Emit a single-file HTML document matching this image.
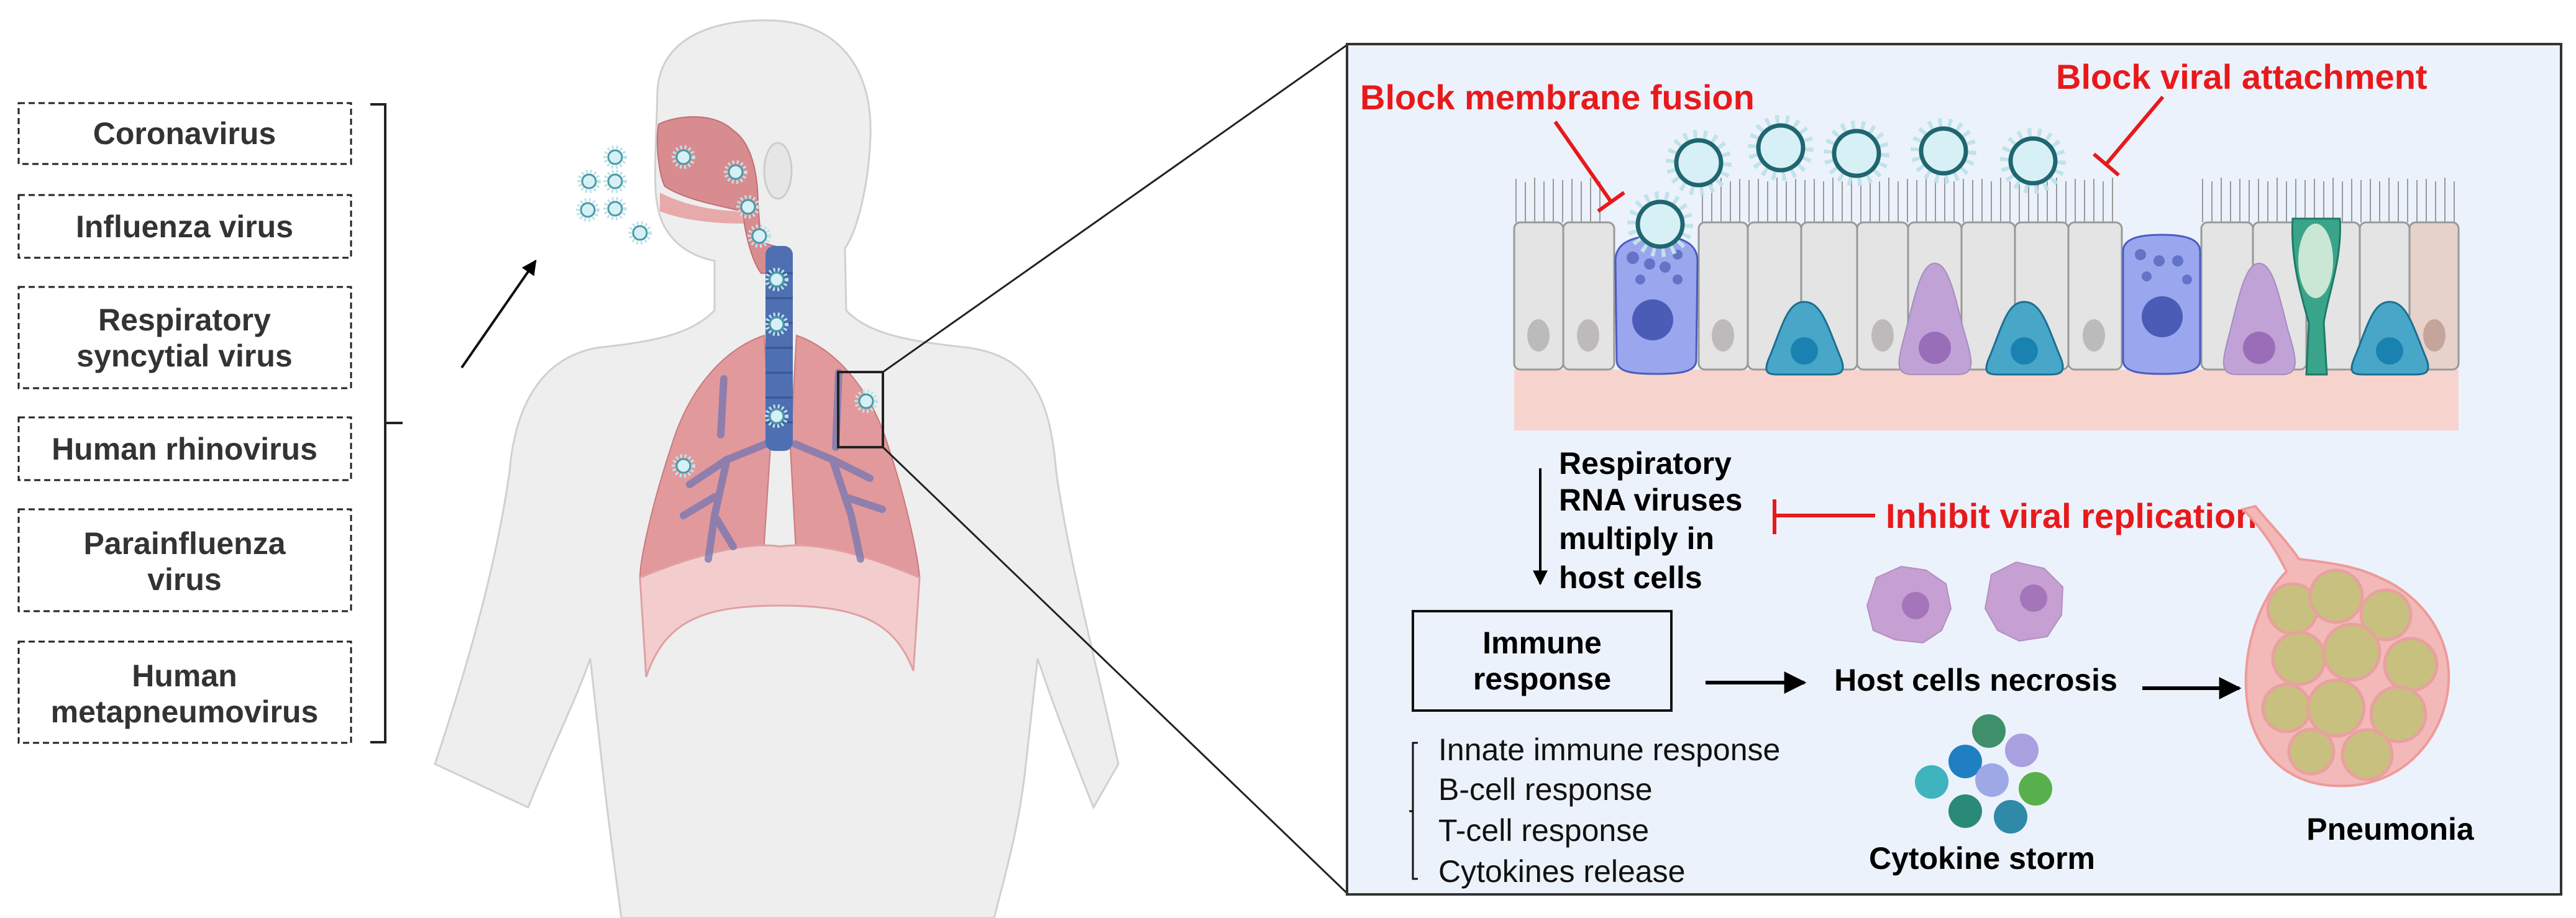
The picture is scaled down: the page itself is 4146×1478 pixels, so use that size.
<!DOCTYPE html>
<html><head><meta charset="utf-8"><style>
html,body{margin:0;padding:0;background:#fff;}
svg{display:block;}
text{font-family:"Liberation Sans",Arial,sans-serif;}
</style></head><body>
<svg width="4146" height="1478" viewBox="0 0 4146 1478" xmlns="http://www.w3.org/2000/svg">
<defs>
<marker id="ah" viewBox="0 0 10 10" refX="9" refY="5" markerWidth="6" markerHeight="6" orient="auto"><path d="M0,0 L10,5 L0,10 z" fill="#000"/></marker>
<g id="vir">
<circle r="46" fill="none" stroke="#bfe3ea" stroke-width="14" stroke-dasharray="6 10"/>
<circle r="36" fill="#d7f0f5" stroke="#1f6670" stroke-width="7"/>
</g>
<g id="vs">
<circle r="16" fill="none" stroke="#bfe3ea" stroke-width="6" stroke-dasharray="3 4"/>
<circle r="11" fill="#d7f0f5" stroke="#4a9aa8" stroke-width="3"/>
</g>
</defs>

<!-- virus list -->
<g fill="#fff" stroke="#222" stroke-width="3" stroke-dasharray="10 6">
<rect x="30" y="166" width="535" height="98"/>
<rect x="30" y="314" width="535" height="101"/>
<rect x="30" y="462" width="535" height="163"/>
<rect x="30" y="672" width="535" height="101"/>
<rect x="30" y="820" width="535" height="164"/>
<rect x="30" y="1033" width="535" height="163"/>
</g>
<g font-size="50" font-weight="bold" fill="#333" text-anchor="middle">
<text x="297" y="232">Coronavirus</text>
<text x="297" y="382">Influenza virus</text>
<text x="297" y="532">Respiratory</text>
<text x="297" y="590">syncytial virus</text>
<text x="297" y="740">Human rhinovirus</text>
<text x="297" y="892">Parainfluenza</text>
<text x="297" y="950">virus</text>
<text x="297" y="1105">Human</text>
<text x="297" y="1163">metapneumovirus</text>
</g>
<path d="M596,168 H620 V1195 H596 M620,681 H648" fill="none" stroke="#222" stroke-width="4"/>
<line x1="743" y1="592" x2="862" y2="420" stroke="#111" stroke-width="4" marker-end="url(#ah)"/>

<!-- body -->
<path d="M1058,150 C1060,60 1150,30 1243,33 C1340,36 1405,100 1401,220 C1398,300 1380,370 1360,400 L1362,500 C1400,540 1470,550 1560,560 C1660,575 1690,640 1700,760 C1720,900 1760,1050 1800,1230 L1760,1300 C1720,1200 1690,1120 1670,1060 L1650,1240 C1640,1330 1620,1400 1600,1478 L1000,1478 C990,1400 980,1330 970,1240 L950,1060 C930,1120 890,1200 850,1300 L700,1230 C760,1050 800,900 820,760 C830,640 880,575 960,560 C1050,550 1110,540 1150,500 L1150,420 C1100,410 1070,380 1060,340 C1050,300 1056,240 1058,150 Z" fill="#eeeeee" stroke="#d0d0d0" stroke-width="3"/>
<ellipse cx="1252" cy="275" rx="22" ry="45" fill="#e6e6e6" stroke="#ccc" stroke-width="3"/>
<path d="M1060,200 C1090,185 1150,180 1180,210 C1210,230 1220,280 1220,330 L1225,390 L1260,400 L1262,440 L1225,440 C1210,420 1200,380 1195,340 C1150,330 1100,320 1070,300 C1060,280 1055,230 1060,200 Z" fill="#d88c8f" stroke="#c07075" stroke-width="2"/>
<path d="M1062,310 C1100,330 1150,340 1195,340 L1197,360 C1150,360 1100,355 1062,340 Z" fill="#e8a9ab"/>
<!-- lungs -->
<path d="M1230,540 C1170,560 1110,620 1080,720 C1050,810 1030,900 1030,930 C1080,925 1160,910 1228,905 L1240,720 Z" fill="#e2999c" stroke="#c97a7e" stroke-width="2"/>
<path d="M1282,540 C1340,560 1400,620 1430,720 C1460,810 1478,900 1480,930 C1430,925 1350,910 1282,905 L1272,720 Z" fill="#e2999c" stroke="#c97a7e" stroke-width="2"/>
<path d="M1030,930 C1100,900 1200,870 1255,880 C1320,870 1410,900 1480,930 L1470,1080 C1440,1000 1380,975 1255,975 C1130,975 1070,1000 1040,1090 Z" fill="#f3cdce" stroke="#e0a0a3" stroke-width="3"/>
<g stroke="#7b78b0" stroke-width="12" fill="none" stroke-linecap="round" opacity="0.8">
<path d="M1232,715 L1170,740 L1150,830 L1140,900 M1170,740 L1110,780 M1150,800 L1100,830 M1160,700 L1165,610 M1150,830 L1180,880"/>
<path d="M1280,715 L1340,740 L1370,830 L1385,900 M1340,740 L1400,770 M1360,800 L1420,820 M1345,720 L1350,600"/>
</g>
<rect x="1232" y="396" width="44" height="330" rx="14" fill="#4e6fb1"/>
<g stroke="#3a5690" stroke-width="3">
<line x1="1232" y1="440" x2="1276" y2="440"/><line x1="1232" y1="480" x2="1276" y2="480"/><line x1="1232" y1="520" x2="1276" y2="520"/><line x1="1232" y1="560" x2="1276" y2="560"/><line x1="1232" y1="600" x2="1276" y2="600"/><line x1="1232" y1="640" x2="1276" y2="640"/><line x1="1232" y1="680" x2="1276" y2="680"/>
</g>
<g>
<use href="#vs" x="990" y="253"/><use href="#vs" x="948" y="292"/><use href="#vs" x="990" y="292"/><use href="#vs" x="946" y="338"/><use href="#vs" x="990" y="336"/><use href="#vs" x="1030" y="375"/>
<use href="#vs" x="1100" y="253"/><use href="#vs" x="1184" y="277"/><use href="#vs" x="1204" y="333"/><use href="#vs" x="1222" y="380"/>
<use href="#vs" x="1250" y="450"/><use href="#vs" x="1250" y="522"/><use href="#vs" x="1250" y="670"/><use href="#vs" x="1394" y="646"/><use href="#vs" x="1100" y="750"/>
</g>
<rect x="1349" y="599" width="72" height="121" fill="none" stroke="#222" stroke-width="4"/>
<line x1="1421" y1="599" x2="2170" y2="71" stroke="#222" stroke-width="3"/>
<line x1="1421" y1="720" x2="2170" y2="1440" stroke="#222" stroke-width="3"/>

<!-- right panel -->
<rect x="2168" y="71" width="1954" height="1369" fill="#ecf2fb" stroke="#333" stroke-width="4"/>
<rect x="2437" y="595" width="1520" height="98" fill="#f6d4cd"/>
<g stroke="#999" stroke-width="2" fill="none">
<path d="M2440,358 v-70 M2455,358 v-65 M2470,358 v-72 M2485,358 v-66 M2500,358 v-70 M2515,358 v-68 M2530,358 v-70 M2545,358 v-66 M2560,358 v-72 M2575,358 v-66"/>
<path d="M2740,358 v-70 M2755,358 v-66 M2770,358 v-72 M2785,358 v-66 M2800,358 v-70 M2815,358 v-68 M2830,358 v-70 M2845,358 v-66 M2860,358 v-72 M2875,358 v-66 M2890,358 v-70 M2905,358 v-68 M2920,358 v-70 M2935,358 v-66 M2950,358 v-72 M2965,358 v-66 M2980,358 v-70 M2995,358 v-68 M3010,358 v-70 M3025,358 v-66 M3040,358 v-72 M3055,358 v-66 M3070,358 v-70 M3085,358 v-68 M3100,358 v-70 M3115,358 v-66 M3130,358 v-72 M3145,358 v-66 M3160,358 v-70 M3175,358 v-68 M3190,358 v-70 M3205,358 v-66 M3220,358 v-72 M3235,358 v-66 M3250,358 v-70 M3265,358 v-68 M3280,358 v-70 M3295,358 v-66 M3310,358 v-72 M3325,358 v-66 M3340,358 v-70 M3355,358 v-68 M3370,358 v-70 M3385,358 v-66 M3400,358 v-72"/>
<path d="M3545,358 v-70 M3560,358 v-66 M3575,358 v-72 M3590,358 v-66 M3605,358 v-70 M3620,358 v-68 M3635,358 v-70 M3650,358 v-66 M3665,358 v-72 M3680,358 v-66 M3695,358 v-70 M3710,358 v-68 M3725,358 v-70 M3740,358 v-66 M3755,358 v-72 M3770,358 v-66 M3785,358 v-70 M3800,358 v-68 M3815,358 v-70 M3830,358 v-66 M3845,358 v-72 M3860,358 v-66 M3875,358 v-70 M3890,358 v-68 M3905,358 v-70 M3920,358 v-66 M3935,358 v-72 M3950,358 v-66"/>
</g>
<g fill="#e4e4e4" stroke="#999" stroke-width="3">
<rect x="2437" y="358" width="79" height="237" rx="10"/><rect x="2516" y="358" width="82" height="237" rx="10"/>
<rect x="2734" y="358" width="79" height="237" rx="10"/><rect x="2813" y="358" width="86" height="237" rx="10"/><rect x="2899" y="358" width="90" height="237" rx="10"/><rect x="2989" y="358" width="82" height="237" rx="10"/><rect x="3071" y="358" width="86" height="237" rx="10"/><rect x="3157" y="358" width="86" height="237" rx="10"/><rect x="3243" y="358" width="86" height="237" rx="10"/><rect x="3329" y="358" width="86" height="237" rx="10"/>
<rect x="3543" y="358" width="83" height="237" rx="10"/><rect x="3626" y="358" width="86" height="237" rx="10"/><rect x="3712" y="358" width="86" height="237" rx="10"/><rect x="3798" y="358" width="80" height="237" rx="10"/>
<rect x="3878" y="358" width="79" height="237" rx="10" fill="#e6d2cb"/>
</g>
<g fill="#bcbaba">
<ellipse cx="2476" cy="540" rx="18" ry="26"/><ellipse cx="2556" cy="540" rx="18" ry="26"/><ellipse cx="2773" cy="540" rx="18" ry="26"/><ellipse cx="3030" cy="540" rx="18" ry="26"/><ellipse cx="3370" cy="540" rx="18" ry="26"/><ellipse cx="3918" cy="540" rx="18" ry="26" fill="#c5a59b"/>
</g>
<g fill="#9aa6ee" stroke="#4a5cc0" stroke-width="3">
<path d="M2600,420 C2600,395 2620,380 2666,380 C2712,380 2732,395 2732,420 L2730,580 C2730,600 2700,602 2666,602 C2630,602 2602,600 2602,580 Z"/>
<path d="M3417,405 C3417,385 3440,378 3479,378 C3518,378 3541,385 3541,405 L3541,580 C3541,600 3510,602 3479,602 C3448,602 3417,600 3417,580 Z"/>
</g>
<g fill="#4a5cb6"><circle cx="2660" cy="515" r="33"/><circle cx="3480" cy="510" r="33"/></g>
<g fill="#6373c6"><circle cx="2628" cy="415" r="10"/><circle cx="2655" cy="425" r="9"/><circle cx="2680" cy="430" r="9"/><circle cx="2700" cy="410" r="8"/><circle cx="2640" cy="450" r="8"/><circle cx="2700" cy="450" r="8"/><circle cx="3445" cy="410" r="9"/><circle cx="3475" cy="420" r="9"/><circle cx="3505" cy="420" r="9"/><circle cx="3455" cy="445" r="8"/><circle cx="3520" cy="450" r="8"/></g>
<g fill="#c0a2d6" stroke="#a58cc0" stroke-width="2">
<path d="M3114,424 C3135,424 3145,470 3160,530 C3175,580 3181,603 3150,603 L3078,603 C3047,603 3055,580 3068,530 C3083,470 3093,424 3114,424 Z"/>
<path d="M3636,424 C3657,424 3667,470 3682,530 C3697,580 3702,603 3672,603 L3600,603 C3570,603 3577,580 3590,530 C3605,470 3615,424 3636,424 Z"/>
</g>
<g fill="#9a6db8"><circle cx="3114" cy="560" r="26"/><circle cx="3636" cy="560" r="26"/></g>
<g fill="#48a6c9" stroke="#1c6f8f" stroke-width="3">
<path d="M2904,486 C2930,486 2940,520 2960,570 C2975,603 2960,603 2940,603 L2868,603 C2845,603 2835,603 2850,570 C2870,520 2878,486 2904,486 Z"/>
<path d="M3258,486 C3284,486 3294,520 3314,570 C3329,603 3314,603 3294,603 L3222,603 C3199,603 3189,603 3204,570 C3224,520 3232,486 3258,486 Z"/>
<path d="M3846,486 C3872,486 3882,520 3902,570 C3917,603 3902,603 3882,603 L3810,603 C3787,603 3777,603 3792,570 C3812,520 3820,486 3846,486 Z"/>
</g>
<g fill="#1a82b0"><circle cx="2904" cy="565" r="22"/><circle cx="3258" cy="565" r="22"/><circle cx="3846" cy="565" r="22"/></g>
<path d="M3690,352 L3766,352 C3770,420 3745,480 3740,520 L3745,603 L3712,603 L3716,520 C3705,480 3686,420 3690,352 Z" fill="#3aa48a" stroke="#1e7a66" stroke-width="3"/>
<ellipse cx="3727" cy="420" rx="28" ry="60" fill="#eef7e6" opacity="0.8"/>
<use href="#vir" x="2734" y="262"/><use href="#vir" x="2866" y="238"/><use href="#vir" x="2988" y="247"/><use href="#vir" x="3128" y="243"/><use href="#vir" x="3272" y="259"/><use href="#vir" x="2672" y="361"/>
<g stroke="#e8191b" stroke-width="6" fill="none">
<path d="M2503,196 L2593,325 M2572,340 L2614,310"/>
<path d="M3481,156 L3390,264 M3370,248 L3410,282"/>
<path d="M3018,830 H2856 M2856,804 V860"/>
</g>
<g font-size="56" font-weight="bold" fill="#e8191b">
<text x="2189" y="176">Block membrane fusion</text>
<text x="3309" y="143">Block viral attachment</text>
<text x="3035" y="850">Inhibit viral replication</text>
</g>
<line x1="2479" y1="754" x2="2479" y2="940" stroke="#000" stroke-width="4" marker-end="url(#ah)"/>
<g font-size="50" font-weight="bold" fill="#000">
<text x="2509" y="763">Respiratory</text>
<text x="2509" y="822">RNA viruses</text>
<text x="2509" y="884">multiply in</text>
<text x="2509" y="947">host cells</text>
</g>
<rect x="2274" y="984" width="416" height="160" fill="none" stroke="#111" stroke-width="4"/>
<g font-size="50" font-weight="bold" fill="#000" text-anchor="middle">
<text x="2482" y="1052">Immune</text>
<text x="2482" y="1110">response</text>
<text x="3180" y="1112">Host cells necrosis</text>
<text x="3190" y="1399">Cytokine storm</text>
<text x="3847" y="1352">Pneumonia</text>
</g>
<line x1="2745" y1="1099" x2="2904" y2="1099" stroke="#000" stroke-width="6" marker-end="url(#ah)"/>
<line x1="3448" y1="1108" x2="3604" y2="1108" stroke="#000" stroke-width="6" marker-end="url(#ah)"/>
<path d="M2282,1196 H2274 V1415 H2282 M2274,1306 H2268" fill="none" stroke="#111" stroke-width="3"/>
<g font-size="50" fill="#111">
<text x="2315" y="1224">Innate immune response</text>
<text x="2315" y="1288">B-cell response</text>
<text x="2315" y="1354">T-cell response</text>
<text x="2315" y="1420">Cytokines release</text>
</g>
<g fill="#c6a0d2" stroke="#b28fc0" stroke-width="2">
<path d="M3020,930 L3060,912 L3100,918 L3132,940 L3140,980 L3125,1015 L3095,1035 L3050,1030 L3015,1015 L3005,975 Z"/>
<path d="M3205,925 L3245,905 L3290,915 L3320,945 L3318,990 L3295,1025 L3250,1032 L3215,1015 L3195,980 Z"/>
</g>
<g fill="#a475b8"><circle cx="3083" cy="975" r="22"/><circle cx="3273" cy="963" r="22"/></g>
<g>
<circle cx="3201" cy="1177" r="27" fill="#3e8f6a"/><circle cx="3254" cy="1208" r="27" fill="#a9a0e0"/>
<circle cx="3163" cy="1226" r="27" fill="#1f7fc2"/><circle cx="3206" cy="1256" r="27" fill="#9da8e6"/>
<circle cx="3109" cy="1259" r="27" fill="#3fb4bf"/><circle cx="3276" cy="1270" r="27" fill="#57b04b"/>
<circle cx="3163" cy="1306" r="27" fill="#2a8a78"/><circle cx="3236" cy="1315" r="27" fill="#2f8aa8"/>
</g>
<path d="M3610,820 C3650,860 3670,900 3680,920 C3640,960 3600,1050 3620,1150 C3640,1230 3700,1270 3780,1265 C3870,1260 3930,1190 3940,1110 C3950,1030 3900,960 3830,930 C3790,910 3740,905 3700,900 C3680,870 3650,840 3630,815 Z" fill="#f2b9b8" stroke="#ef9a9a" stroke-width="4"/>
<g fill="#c7c07e" stroke="#e9a0a0" stroke-width="5">
<circle cx="3690" cy="980" r="40"/><circle cx="3760" cy="960" r="42"/><circle cx="3840" cy="990" r="40"/><circle cx="3700" cy="1060" r="42"/><circle cx="3785" cy="1050" r="45"/><circle cx="3880" cy="1070" r="42"/><circle cx="3680" cy="1140" r="38"/><circle cx="3760" cy="1140" r="45"/><circle cx="3860" cy="1150" r="44"/><circle cx="3720" cy="1210" r="36"/><circle cx="3810" cy="1215" r="40"/>
</g>
</svg>
</body></html>
